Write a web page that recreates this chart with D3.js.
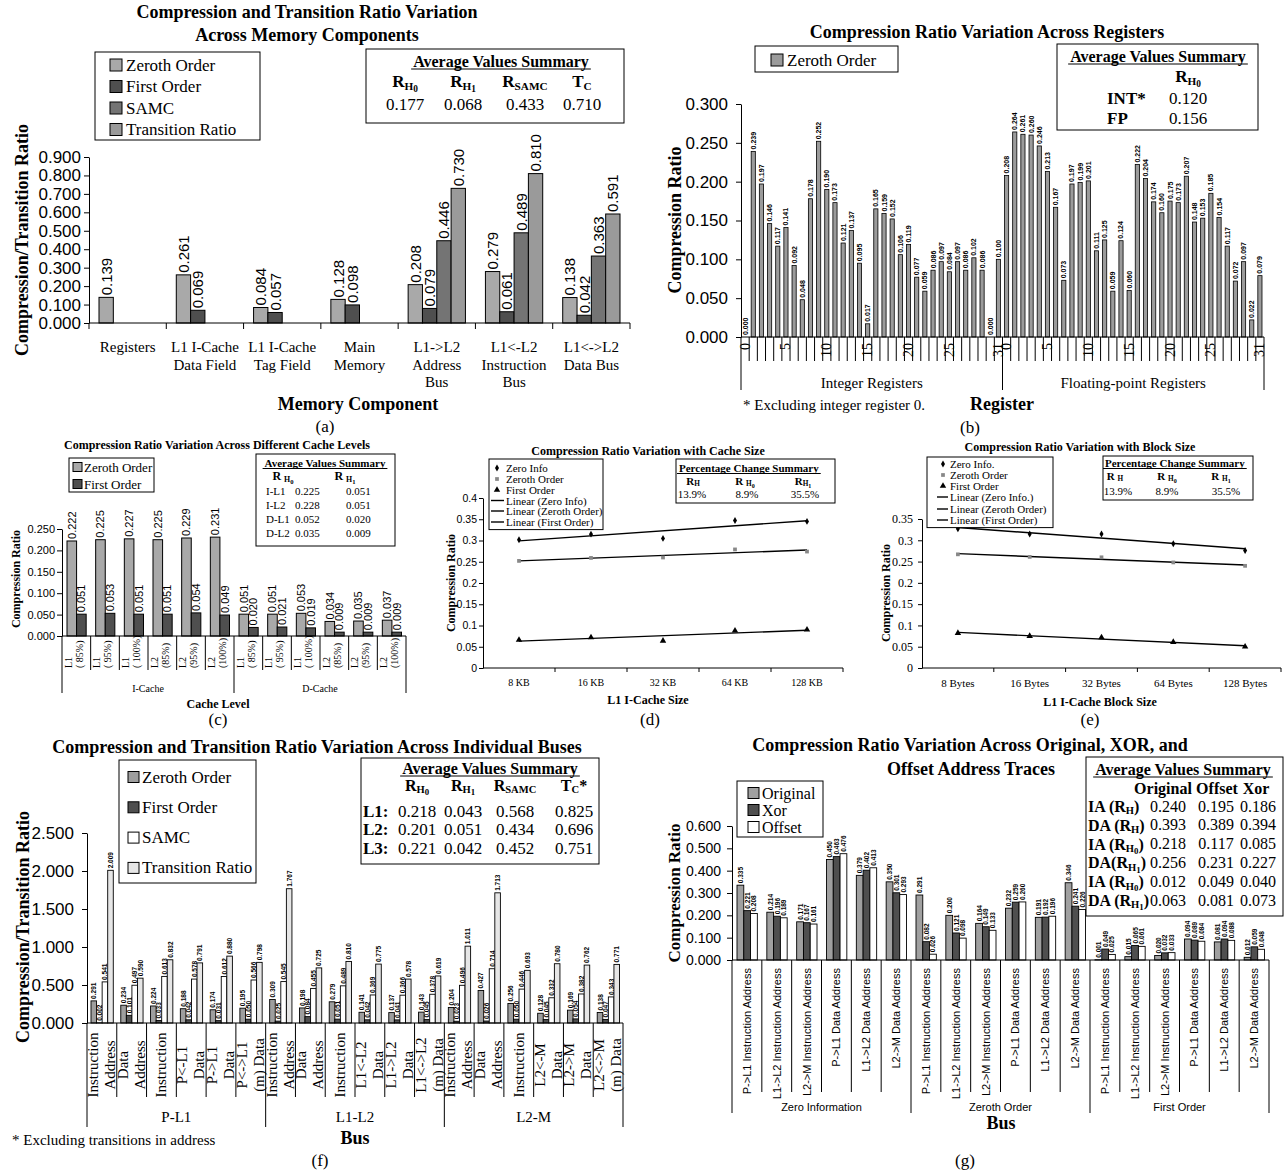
<!DOCTYPE html>
<html>
<head>
<meta charset="utf-8">
<script src="https://cdn.jsdelivr.net/npm/d3@7"></script>
<style>body{margin:0;background:#fff}</style>
</head>
<body>
<div id="chart"></div>
<script>
// ---------- data ----------
// (a) memory components
const memCats = [['Registers'], ['L1 I-Cache', 'Data Field'], ['L1 I-Cache', 'Tag Field'], ['Main', 'Memory'], ['L1->L2', 'Address', 'Bus'], ['L1<-L2', 'Instruction', 'Bus'], ['L1<->L2', 'Data Bus']]
const memSeries = ['Zeroth Order', 'First Order', 'SAMC', 'Transition Ratio']
const memZeroth = [0.139, 0.261, 0.084, 0.128, 0.208, 0.279, 0.138]
const memFirst = [null, 0.069, 0.057, 0.098, 0.079, 0.061, 0.042]
const memSamc = [null, null, null, null, 0.446, 0.489, 0.363]
const memTrans = [null, null, null, null, 0.73, 0.81, 0.591]
const memTicks = [0, 0.1, 0.2, 0.3, 0.4, 0.5, 0.6, 0.7, 0.8, 0.9]
const memAvg = ['0.177', '0.068', '0.433', '0.710']

// (b) registers
const regInt = [0.0, 0.239, 0.197, 0.146, 0.117, 0.141, 0.092, 0.048, 0.178, 0.252, 0.19, 0.173, 0.121, 0.137, 0.095, 0.017,
  0.165, 0.159, 0.152, 0.106, 0.119, 0.077, 0.059, 0.086, 0.097, 0.084, 0.097, 0.086, 0.102, 0.086, 0.0, 0.1]
const regFp = [0.208, 0.264, 0.261, 0.26, 0.246, 0.213, 0.167, 0.073, 0.197, 0.199, 0.201, 0.111, 0.125, 0.059, 0.124, 0.06,
  0.222, 0.204, 0.174, 0.16, 0.175, 0.173, 0.207, 0.148, 0.153, 0.185, 0.154, 0.117, 0.072, 0.097, 0.022, 0.079]
const regLabels = [0, 5, 10, 15, 20, 25, 31]
const regGroups = ['Integer Registers', 'Floating-point Registers']
const regTicks = [0, 0.05, 0.1, 0.15, 0.2, 0.25, 0.3]
const regAvg = [['INT*', '0.120'], ['FP', '0.156']]

// (c) cache levels
const cacheCats = [['L1', '( 85%)'], ['L1', '( 95%)'], ['L1', '( 100%)'], ['L2', '(85%)'], ['L2', '(95%)'], ['L2', '(100%)'],
  ['L1', '( 85%)'], ['L1', '( 95%)'], ['L1', '( 100%)'], ['L2', '(85%)'], ['L2', '(95%)'], ['L2', '(100%)']]
const cacheGroups = ['I-Cache', 'D-Cache']
const cacheZeroth = [0.222, 0.225, 0.227, 0.225, 0.229, 0.231, 0.051, 0.051, 0.053, 0.034, 0.035, 0.037]
const cacheFirst = [0.051, 0.053, 0.051, 0.051, 0.054, 0.049, 0.02, 0.021, 0.019, 0.009, 0.009, 0.009]
const cacheTicks = [0, 0.05, 0.1, 0.15, 0.2, 0.25]
const cacheAvg = [['I-L1', '0.225', '0.051'], ['I-L2', '0.228', '0.051'], ['D-L1', '0.052', '0.020'], ['D-L2', '0.035', '0.009']]

// (d) cache size
const sizeCats = ['8 KB', '16 KB', '32 KB', '64 KB', '128 KB']
const sizeZeroInfo = [0.302, 0.315, 0.305, 0.347, 0.345]
const sizeZeroth = [0.252, 0.259, 0.26, 0.279, 0.274]
const sizeFirst = [0.066, 0.072, 0.064, 0.088, 0.09]
const sizeTicks = [0, 0.05, 0.1, 0.15, 0.2, 0.25, 0.3, 0.35, 0.4]

// (e) block size
const blockCats = ['8 Bytes', '16 Bytes', '32 Bytes', '64 Bytes', '128 Bytes']
const blockZeroInfo = [0.327, 0.315, 0.315, 0.292, 0.276]
const blockZeroth = [0.267, 0.261, 0.26, 0.248, 0.24]
const blockFirst = [0.082, 0.075, 0.072, 0.061, 0.05]
const blockTicks = [0, 0.05, 0.1, 0.15, 0.2, 0.25, 0.3, 0.35]
const pctChange = ['13.9%', '8.9%', '35.5%']

// (f) individual buses
const busCats = [['Instruction', 'Address'], ['Data', 'Address'], ['Instruction'], ['P<-L1', 'Data'], ['P->L1', 'Data'], ['P<->L1', '(m) Data'],
  ['Instruction', 'Address'], ['Data', 'Address'], ['Instruction'], ['L1<-L2', 'Data'], ['L1->L2', 'Data'], ['L1<->L2', '(m) Data'],
  ['Instruction', 'Address'], ['Data', 'Address'], ['Instruction'], ['L2<-M', 'Data'], ['L2->M', 'Data'], ['L2<->M', '(m) Data']]
const busGroups = ['P-L1', 'L1-L2', 'L2-M']
const busZeroth = [0.291, 0.234, 0.224, 0.188, 0.174, 0.195, 0.309, 0.198, 0.279, 0.141, 0.137, 0.143, 0.204, 0.427, 0.256, 0.128, 0.169, 0.138]
const busFirst = [0.002, 0.101, 0.033, 0.042, 0.031, 0.05, 0.025, 0.084, 0.051, 0.042, 0.041, 0.045, 0.023, 0.026, 0.05, 0.045, 0.054, 0.047]
const busSamc = [0.541, 0.497, 0.613, 0.578, 0.612, 0.566, 0.545, 0.455, 0.489, 0.369, 0.366, 0.378, 0.496, 0.714, 0.446, 0.332, 0.382, 0.343]
const busTrans = [2.009, 0.59, 0.832, 0.791, 0.88, 0.798, 1.767, 0.725, 0.81, 0.775, 0.578, 0.619, 1.011, 1.713, 0.693, 0.78, 0.762, 0.771]
const busTicks = [0, 0.5, 1, 1.5, 2, 2.5]
const busAvg = [['L1:', '0.218', '0.043', '0.568', '0.825'], ['L2:', '0.201', '0.051', '0.434', '0.696'], ['L3:', '0.221', '0.042', '0.452', '0.751']]

// (g) address traces
const traceBuses = ['P->L1 Instruction Address', 'L1->L2 Instruction Address', 'L2->M Instruction Address', 'P->L1 Data Address', 'L1->L2 Data Address', 'L2->M Data Address']
const traceGroups = ['Zero Information', 'Zeroth Order', 'First Order']
const traceOriginal = [0.335, 0.214, 0.171, 0.45, 0.379, 0.35, 0.291, 0.2, 0.164, 0.232, 0.191, 0.346, 0.001, 0.015, 0.02, 0.094, 0.081, 0.012]
const traceXor = [0.221, 0.196, 0.167, 0.463, 0.402, 0.301, 0.082, 0.121, 0.149, 0.259, 0.192, 0.241, 0.049, 0.065, 0.032, 0.089, 0.094, 0.059]
const traceOffset = [0.208, 0.189, 0.161, 0.476, 0.413, 0.293, 0.026, 0.098, 0.133, 0.26, 0.196, 0.226, 0.025, 0.061, 0.033, 0.084, 0.088, 0.048]
const traceTicks = [0, 0.1, 0.2, 0.3, 0.4, 0.5, 0.6]
const traceAvgRows = [
  [[['IA (R', 0], ['H', 1], [')', 0]], '0.240', '0.195', '0.186'],
  [[['DA (R', 0], ['H', 1], [')', 0]], '0.393', '0.389', '0.394'],
  [[['IA (R', 0], ['H', 1], ['0', 2], [')', 0]], '0.218', '0.117', '0.085'],
  [[['DA(R', 0], ['H', 1], ['1', 2], [')', 0]], '0.256', '0.231', '0.227'],
  [[['IA (R', 0], ['H', 1], ['0', 2], [')', 0]], '0.012', '0.049', '0.040'],
  [[['DA (R', 0], ['H', 1], ['1', 2], [')', 0]], '0.063', '0.081', '0.073']
]

// ---------- helpers ----------
const FS = "'Liberation Serif', 'Times New Roman', serif"
const FA = "'Liberation Sans', Arial, sans-serif"

const svg = d3.select('#chart').append('svg').attr('width', 1288).attr('height', 1172)
svg.append('rect').attr('width', 1288).attr('height', 1172).attr('fill', '#fff')

function T(g, x, y, s, o = {}) {
  const t = g.append('text')
    .attr('x', x).attr('y', y)
    .attr('font-family', o.sans ? FA : FS)
    .attr('font-size', o.size || 14)
    .attr('font-weight', o.bold ? 'bold' : null)
    .attr('text-anchor', o.anchor || 'middle')
    .attr('dominant-baseline', 'central')
  if (o.rot) t.attr('transform', `rotate(${o.rot},${x},${y})`)
  if (s != null) t.text(s)
  return t
}

// parts: [text, level] level 0 normal, 1 subscript, 2 sub-subscript
function rich(t, parts, fs) {
  const off = [0, fs * 0.28, fs * 0.45]
  const sz = [fs, fs * 0.66, fs * 0.55]
  let cur = 0
  parts.forEach(([s, lv]) => {
    t.append('tspan').attr('dy', off[lv] - cur).attr('font-size', sz[lv]).text(s)
    cur = off[lv]
  })
  return t
}

function box(g, x0, y0, x1, y1, sw) {
  g.append('rect').attr('x', x0).attr('y', y0).attr('width', x1 - x0).attr('height', y1 - y0)
    .attr('fill', '#fff').attr('stroke', '#000').attr('stroke-width', sw || 1)
}

function heading(g, x, y, s, size, anchor) {
  const t = T(g, x, y, s, { bold: 1, size, anchor: anchor || 'middle' })
  const w = t.node().getComputedTextLength()
  const x0 = anchor === 'start' ? x : x - w / 2
  g.append('line').attr('x1', x0 - 2).attr('x2', x0 + w + 2)
    .attr('y1', y + size * 0.5).attr('y2', y + size * 0.5).attr('stroke', '#000').attr('stroke-width', 1)
}

function swatch(g, x, y, s, fill) {
  g.append('rect').attr('x', x).attr('y', y - s / 2).attr('width', s).attr('height', s)
    .attr('fill', fill).attr('stroke', '#000').attr('stroke-width', 1)
}

function styleAxis(ax, size, serif) {
  ax.attr('font-size', size).attr('font-family', serif ? FS : FA)
  ax.selectAll('text').attr('fill', '#000')
  ax.selectAll('line,path').attr('stroke', '#000')
}

function barChart(g, o) {
  const n = o.series[0].length
  const x = d3.scaleBand().domain(d3.range(n)).range([o.x0, o.x1])
  const bw = x.bandwidth()
  const xs = d3.scaleBand().domain(d3.range(o.series.length)).range([o.padL, bw - o.padR])
  const y = d3.scaleLinear().domain([0, o.max]).range([o.y0, o.y1])

  const ax = g.append('g')
    .attr('transform', `translate(${o.x0},0)`)
    .call(d3.axisLeft(y).tickValues(o.ticks).tickFormat(o.fmt || d3.format('.3f'))
      .tickSize(5).tickSizeOuter(0).tickPadding(o.tickPad || 3))
  styleAxis(ax, o.tickFont, o.tickSerif)

  o.series.forEach((vals, s) => {
    const pts = vals.map((v, i) => ({ v, i })).filter((d) => d.v != null)
    g.append('g').selectAll('rect').data(pts).join('rect')
      .attr('x', (d) => x(d.i) + xs(s))
      .attr('y', (d) => y(d.v))
      .attr('width', xs.bandwidth())
      .attr('height', (d) => o.y0 - y(d.v))
      .attr('fill', o.colors[s])
      .attr('stroke', '#000')
      .attr('stroke-width', o.sw || 1)
    if (o.valFont) {
      g.append('g').selectAll('text').data(pts).join('text')
        .attr('transform', (d) => `translate(${x(d.i) + xs(s) + xs.bandwidth() / 2},${y(d.v) - 2}) rotate(-90)`)
        .attr('font-family', FA)
        .attr('font-size', o.valFont)
        .attr('font-weight', o.valBold ? 'bold' : null)
        .attr('dominant-baseline', 'central')
        .text((d) => d3.format('.3f')(d.v))
    }
  })

  g.append('line').attr('x1', o.x0).attr('x2', o.x1).attr('y1', o.y0).attr('y2', o.y0).attr('stroke', '#000')
  return { x, y, bw, n }
}

// category separators below the x axis
function seps(g, c, y0, len, longLen, every) {
  for (let i = 0; i <= c.n; i++) {
    const xi = c.x.range()[0] + i * c.bw
    const l = every && i % every === 0 ? longLen : len
    g.append('line').attr('x1', xi).attr('x2', xi).attr('y1', y0).attr('y2', y0 + l)
      .attr('stroke', '#000').attr('stroke-width', 1)
  }
}

function fit(vals) {
  const xs = vals.map((v, i) => i)
  const mx = d3.mean(xs)
  const my = d3.mean(vals)
  const b = d3.sum(xs, (xv, i) => (xv - mx) * (vals[i] - my)) / d3.sum(xs, (xv) => (xv - mx) ** 2)
  return (xv) => my + b * (xv - mx)
}

const markers = [
  { type: d3.symbolDiamond, size: 14, fill: '#000' },
  { type: d3.symbolSquare, size: 14, fill: '#888' },
  { type: d3.symbolTriangle, size: 18, fill: '#000' }
]

function trendChart(g, o) {
  const xb = d3.scaleBand().domain(o.cats).range([o.x0, o.x1])
  const cx = (c) => xb(c) + xb.bandwidth() / 2
  const y = d3.scaleLinear().domain([0, o.max]).range([o.y0, o.y1])
  const ax = g.append('g').attr('transform', `translate(${o.x0},0)`)
    .call(d3.axisLeft(y).tickValues(o.ticks).tickFormat(d3.format('~g')).tickSize(4).tickSizeOuter(0).tickPadding(o.tickPad || 2))
  styleAxis(ax, o.tickFont, o.tickSerif)
  g.append('line').attr('x1', o.x0).attr('x2', o.x1).attr('y1', o.y0).attr('y2', o.y0).attr('stroke', '#000')
  o.cats.forEach((c, i) => {
    const xe = xb(c) + xb.bandwidth()
    g.append('line').attr('x1', xe).attr('x2', xe).attr('y1', o.y0).attr('y2', o.y0 + 4).attr('stroke', '#000')
    T(g, cx(c), o.labelY, c, { size: o.catFont })
  })
  o.series.forEach((vals, s) => {
    const f = fit(vals)
    g.append('line')
      .attr('x1', cx(o.cats[0])).attr('y1', y(f(0)))
      .attr('x2', cx(o.cats[o.cats.length - 1])).attr('y2', y(f(o.cats.length - 1)))
      .attr('stroke', '#000').attr('stroke-width', 1.4)
    g.append('g').selectAll('path').data(vals).join('path')
      .attr('transform', (v, i) => `translate(${cx(o.cats[i])},${y(v)})`)
      .attr('d', d3.symbol().type(markers[s].type).size(markers[s].size))
      .attr('fill', markers[s].fill)
  })
}

function trendLegend(g, x0, y0, x1, ys, mx, lx0, lx1, tx, names, size) {
  box(g, x0, y0, x1, ys[ys.length - 1] + (ys[1] - ys[0]) * 0.6 + 1)
  names.forEach((nm, i) => {
    if (i < 3) {
      g.append('path').attr('transform', `translate(${mx},${ys[i]})`)
        .attr('d', d3.symbol().type(markers[i].type).size(markers[i].size)).attr('fill', markers[i].fill)
    } else {
      g.append('line').attr('x1', lx0).attr('x2', lx1).attr('y1', ys[i]).attr('y2', ys[i]).attr('stroke', '#000').attr('stroke-width', 1.4)
    }
    T(g, tx, ys[i], nm, { size, anchor: 'start' })
  })
}

// ---------- (a) ----------
const ga = svg.append('g')
T(ga, 307, 12, 'Compression and Transition Ratio Variation', { bold: 1, size: 18 })
T(ga, 307, 35, 'Across Memory Components', { bold: 1, size: 18 })
const A = barChart(ga, {
  series: [memZeroth, memFirst, memSamc, memTrans],
  colors: ['#a9a9a9', '#4f4f4f', '#747474', '#9a9a9a'],
  x0: 89, x1: 630, y0: 323, y1: 157, max: 0.9, ticks: memTicks,
  tickFont: 17, padL: 10, padR: 10, valFont: 15
})
seps(ga, A, 323, 6, 6, 0)
memCats.forEach((lines, i) => {
  lines.forEach((l, k) => T(ga, A.x(i) + A.bw / 2, 347 + k * 17.5, l, { size: 15 }))
})
T(ga, 358, 404, 'Memory Component', { bold: 1, size: 18 })
T(ga, 22, 240, 'Compression/Transition Ratio', { bold: 1, size: 18, rot: -90 })
box(ga, 95, 52, 260, 140)
memSeries.forEach((nm, i) => {
  const yy = 65 + i * 21.5
  swatch(ga, 110, yy, 12, ['#a9a9a9', '#4f4f4f', '#747474', '#9a9a9a'][i])
  T(ga, 126, yy, nm, { size: 17, anchor: 'start' })
})
box(ga, 366, 49, 624, 123)
heading(ga, 501, 61, 'Average Values Summary', 16)
const memHeads = [[['R', 0], ['H', 1], ['0', 2]], [['R', 0], ['H', 1], ['1', 2]], [['R', 0], ['SAMC', 1]], [['T', 0], ['C', 1]]]
const memCols = [405, 463, 525, 582]
memHeads.forEach((p, i) => rich(T(ga, memCols[i], 81, null, { bold: 1, size: 17 }), p, 17))
memAvg.forEach((v, i) => T(ga, memCols[i], 104, v, { size: 17 }))
T(ga, 325, 426, '(a)', { size: 17 })

// ---------- (b) ----------
const gb = svg.append('g')
T(gb, 987, 32, 'Compression Ratio Variation Across Registers', { bold: 1, size: 18 })
const B = barChart(gb, {
  series: [regInt.concat(regFp)], colors: ['#9b9b9b'],
  x0: 741, x1: 1264, y0: 337, y1: 104, max: 0.3, ticks: regTicks,
  tickFont: 17, tickPad: 8, padL: 2, padR: 2, valFont: 7, valBold: true, sw: 0.8
})
seps(gb, B, 337, 24, 53, 32)
regGroups.forEach((nm, gi) => {
  regLabels.forEach((k) => {
    const xx = B.x(gi * 32 + k) + B.bw / 2
    T(gb, xx, 343, String(k), { size: 14, anchor: 'end', rot: -90 })
  })
  T(gb, B.x(gi * 32) + B.bw * 16, 383, nm, { size: 15 })
})
T(gb, 743, 405, '* Excluding integer register 0.', { size: 15, anchor: 'start' })
T(gb, 1002, 404, 'Register', { bold: 1, size: 18 })
T(gb, 675, 220, 'Compression Ratio', { bold: 1, size: 18, rot: -90 })
box(gb, 755, 46, 898, 72)
swatch(gb, 771, 60, 12, '#9b9b9b')
T(gb, 787, 60, 'Zeroth Order', { size: 17, anchor: 'start' })
box(gb, 1057, 44, 1258, 130)
heading(gb, 1158, 56, 'Average Values Summary', 16)
rich(T(gb, 1188, 76, null, { bold: 1, size: 17 }), [['R', 0], ['H', 1], ['0', 2]], 17)
regAvg.forEach(([lab, v], i) => {
  T(gb, 1107, 98 + i * 20, lab, { bold: 1, size: 17, anchor: 'start' })
  T(gb, 1188, 98 + i * 20, v, { size: 17 })
})
T(gb, 970, 427, '(b)', { size: 17 })

// ---------- (c) ----------
const gc = svg.append('g')
T(gc, 217, 445, 'Compression Ratio Variation Across Different Cache Levels', { bold: 1, size: 12 })
const C = barChart(gc, {
  series: [cacheZeroth, cacheFirst], colors: ['#a9a9a9', '#4f4f4f'],
  x0: 62, x1: 406, y0: 636, y1: 529, max: 0.25, ticks: cacheTicks,
  tickFont: 11, tickPad: 2, padL: 5, padR: 4.5, valFont: 11
})
seps(gc, C, 636, 34, 57, 6)
cacheCats.forEach(([l1, l2], i) => {
  const x0 = C.x(i)
  T(gc, x0 + 6, 668, l1, { size: 10, anchor: 'start', rot: -90 })
  T(gc, x0 + 17, 668, l2, { size: 10, anchor: 'start', rot: -90 })
})
cacheGroups.forEach((nm, gi) => T(gc, C.x(gi * 6) + C.bw * 3, 688, nm, { size: 10 }))
T(gc, 218, 704, 'Cache Level', { bold: 1, size: 12 })
T(gc, 16, 579, 'Compression Ratio', { bold: 1, size: 12, rot: -90 })
box(gc, 69, 458, 154, 492)
;['Zeroth Order', 'First Order'].forEach((nm, i) => {
  swatch(gc, 73, 467 + i * 17, 9, ['#a9a9a9', '#4f4f4f'][i])
  T(gc, 84, 467 + i * 17, nm, { size: 13, anchor: 'start' })
})
box(gc, 256, 454, 395, 546)
heading(gc, 325, 463, 'Average Values Summary', 11)
rich(T(gc, 283, 476, null, { bold: 1, size: 12 }), [['R ', 0], ['H', 1], ['0', 2]], 12)
rich(T(gc, 345, 476, null, { bold: 1, size: 12 }), [['R ', 0], ['H', 1], ['1', 2]], 12)
cacheAvg.forEach(([lab, v1, v2], i) => {
  const yy = 491 + i * 14
  T(gc, 266, yy, lab, { size: 11, anchor: 'start' })
  T(gc, 295, yy, v1, { size: 11, anchor: 'start' })
  T(gc, 346, yy, v2, { size: 11, anchor: 'start' })
})
T(gc, 218, 719, '(c)', { size: 17 })

// ---------- (d) ----------
const gd = svg.append('g')
T(gd, 648, 451, 'Compression Ratio Variation with Cache Size', { bold: 1, size: 12 })
trendChart(gd, {
  cats: sizeCats, series: [sizeZeroInfo, sizeZeroth, sizeFirst],
  x0: 483, x1: 843, y0: 668, y1: 498, max: 0.4, ticks: sizeTicks, tickFont: 10.5, labelY: 682, catFont: 10
})
T(gd, 648, 700, 'L1 I-Cache Size', { bold: 1, size: 12 })
T(gd, 451, 583, 'Compression Ratio', { bold: 1, size: 12, rot: -90 })
trendLegend(gd, 489, 459, 603, [468, 479, 490, 500.5, 511, 522], 497, 491, 504, 506,
  ['Zero Info', 'Zeroth Order', 'First Order', 'Linear (Zero Info)', 'Linear (Zeroth Order)', 'Linear (First Order)'], 11)
box(gd, 676, 459, 835, 503)
heading(gd, 679, 468, 'Percentage Change Summary', 11, 'start')
rich(T(gd, 693, 481, null, { bold: 1, size: 11 }), [['R', 0], ['H', 1]], 11)
rich(T(gd, 745, 481, null, { bold: 1, size: 11 }), [['R ', 0], ['H', 1], ['0', 2]], 11)
rich(T(gd, 803, 481, null, { bold: 1, size: 11 }), [['R', 0], ['H', 1], ['1', 2]], 11)
pctChange.forEach((v, i) => T(gd, [692, 747, 805][i], 494, v, { size: 11 }))
T(gd, 650, 719, '(d)', { size: 17 })

// ---------- (e) ----------
const ge = svg.append('g')
T(ge, 1080, 447, 'Compression Ratio Variation with Block Size', { bold: 1, size: 12 })
trendChart(ge, {
  cats: blockCats, series: [blockZeroInfo, blockZeroth, blockFirst],
  x0: 922, x1: 1281, y0: 668, y1: 519, max: 0.35, ticks: blockTicks, tickFont: 12, tickSerif: true, tickPad: 5, labelY: 683, catFont: 11
})
T(ge, 1100, 702, 'L1 I-Cache Block Size', { bold: 1, size: 12 })
T(ge, 886, 593, 'Compression Ratio', { bold: 1, size: 12, rot: -90 })
trendLegend(ge, 927, 457, 1053, [464, 475, 486, 497, 509, 520], 943, 937, 948, 950,
  ['Zero Info.', 'Zeroth Order', 'First Order', 'Linear (Zero Info.)', 'Linear (Zeroth Order)', 'Linear (First Order)'], 11)
box(ge, 1103, 456, 1253, 500)
heading(ge, 1105, 463, 'Percentage Change Summary', 11, 'start')
rich(T(ge, 1115, 476, null, { bold: 1, size: 11 }), [['R  ', 0], ['H', 1]], 11)
rich(T(ge, 1167, 476, null, { bold: 1, size: 11 }), [['R  ', 0], ['H', 1], ['0', 2]], 11)
rich(T(ge, 1221, 476, null, { bold: 1, size: 11 }), [['R  ', 0], ['H', 1], ['1', 2]], 11)
pctChange.forEach((v, i) => T(ge, [1118, 1167, 1226][i], 491, v, { size: 11 }))
T(ge, 1090, 719, '(e)', { size: 17 })

// ---------- (f) ----------
const gf = svg.append('g')
const busColors = ['#9e9e9e', '#4f4f4f', '#ffffff', '#e6e6e6']
T(gf, 317, 747, 'Compression and Transition Ratio Variation Across Individual Buses', { bold: 1, size: 18 })
const F = barChart(gf, {
  series: [busZeroth, busFirst, busSamc, busTrans], colors: busColors,
  x0: 87, x1: 623, y0: 1023, y1: 833, max: 2.5, ticks: busTicks,
  tickFont: 17, tickPad: 8, padL: 4, padR: 3.5, valFont: 6.5, valBold: true, sw: 0.9
})
seps(gf, F, 1023, 74, 104, 6)
busCats.forEach((lines, i) => {
  const x0 = F.x(i)
  if (lines.length === 1) T(gf, x0 + F.bw / 2, 1065, lines[0], { size: 15, rot: -90 })
  else lines.forEach((l, k) => T(gf, x0 + 6 + k * 17, 1065, l, { size: 15, rot: -90 }))
})
busGroups.forEach((nm, gi) => T(gf, F.x(gi * 6) + F.bw * 3, 1117, nm, { size: 15 }))
T(gf, 355, 1138, 'Bus', { bold: 1, size: 18 })
T(gf, 12, 1140, '* Excluding transitions in address', { size: 15, anchor: 'start' })
T(gf, 23, 927, 'Compression/Transition Ratio', { bold: 1, size: 18, rot: -90 })
box(gf, 119, 760, 256, 883)
memSeries.forEach((nm, i) => {
  const yy = 777 + i * 30.3
  swatch(gf, 128, yy, 11, busColors[i])
  T(gf, 142, yy, nm, { size: 17, anchor: 'start' })
})
box(gf, 361, 758, 599, 864)
heading(gf, 490, 768, 'Average Values Summary', 16)
const busCols = [417, 463, 515, 574]
const busHeads = [[['R', 0], ['H', 1], ['0', 2]], [['R', 0], ['H', 1], ['1', 2]], [['R', 0], ['SAMC', 1]], [['T', 0], ['C', 1], ['*', 0]]]
busHeads.forEach((p, i) => rich(T(gf, busCols[i], 785, null, { bold: 1, size: 16 }), p, 16))
busAvg.forEach((row, r) => {
  const yy = 811 + r * 18.5
  T(gf, 363, yy, row[0], { bold: 1, size: 17, anchor: 'start' })
  row.slice(1).forEach((v, i) => T(gf, busCols[i], yy, v, { size: 17 }))
})
T(gf, 320, 1160, '(f)', { size: 17 })

// ---------- (g) ----------
const gg = svg.append('g')
const traceColors = ['#a0a0a0', '#4f4f4f', '#ffffff']
T(gg, 970, 745, 'Compression Ratio Variation Across Original, XOR, and', { bold: 1, size: 18 })
T(gg, 971, 769, 'Offset Address Traces', { bold: 1, size: 18 })
const G = barChart(gg, {
  series: [traceOriginal, traceXor, traceOffset], colors: traceColors,
  x0: 732, x1: 1269, y0: 960, y1: 826, max: 0.6, ticks: traceTicks,
  tickFont: 14, tickPad: 6, padL: 5, padR: 4.5, valFont: 6.5, valBold: true, sw: 0.9
})
seps(gg, G, 960, 132, 153, 6)
traceGroups.forEach((grp, gi) => {
  traceBuses.forEach((nm, k) => {
    const i = gi * 6 + k
    T(gg, G.x(i) + G.bw / 2, 968, nm, { sans: 1, size: 11, anchor: 'end', rot: -90 })
  })
  T(gg, G.x(gi * 6) + G.bw * 3, 1107, grp, { sans: 1, size: 11 })
})
T(gg, 1001, 1123, 'Bus', { bold: 1, size: 18 })
T(gg, 674, 893, 'Compression Ratio', { bold: 1, size: 17, rot: -90 })
box(gg, 737, 781, 823, 837)
;['Original', 'Xor', 'Offset'].forEach((nm, i) => {
  const yy = 793 + i * 17
  swatch(gg, 748, yy, 11, traceColors[i])
  T(gg, 762, yy, nm, { size: 16, anchor: 'start' })
})
box(gg, 1086, 757, 1283, 916)
heading(gg, 1183, 769, 'Average Values Summary', 16)
const traceCols = [1168, 1216, 1258]
;['Original', 'Offset', 'Xor'].forEach((h, i) => T(gg, [1163, 1217, 1256][i], 788, h, { bold: 1, size: 16 }))
traceAvgRows.forEach((row, r) => {
  const yy = 806 + r * 18.8
  rich(T(gg, 1088, yy, null, { bold: 1, size: 16, anchor: 'start' }), row[0], 16)
  row.slice(1).forEach((v, i) => T(gg, traceCols[i], yy, v, { size: 16 }))
})
T(gg, 965, 1160, '(g)', { size: 17 })
</script>
</body>
</html>
